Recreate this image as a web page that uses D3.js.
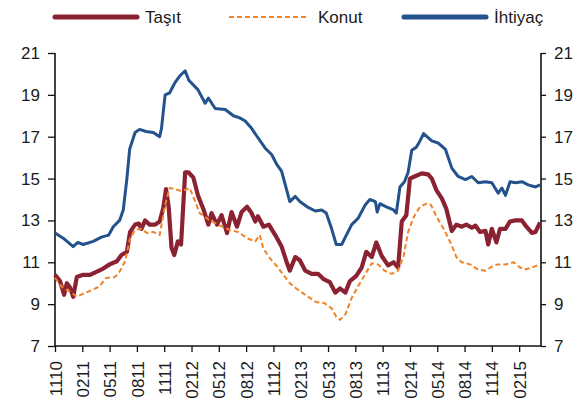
<!DOCTYPE html>
<html lang="tr">
<head>
  <meta charset="UTF-8">
  <title>Taşıt Konut İhtiyaç</title>
  <style>
    body { margin: 0; background: #fff; }
    svg { display: block; font-family: "Liberation Sans", Arial, sans-serif; }
  </style>
</head>
<body>
<svg width="576" height="406"></svg>

<script src="https://cdn.jsdelivr.net/npm/d3@7"></script>
<script>
  // month offsets count from 11/2010
  var tickMonths = [0, 3, 6, 9, 12, 15, 18, 21, 24, 27, 30, 33, 36, 39, 42, 45, 48, 51];
  var tickLabels = ['1110', '0211', '0511', '0811', '1111', '0212', '0512', '0812', '1112',
                    '0213', '0513', '0813', '1113', '0214', '0514', '0814', '1114', '0215'];
  var yTicks = [7, 9, 11, 13, 15, 17, 19, 21];

  var seriesNames = ['Taşıt', 'Konut', 'İhtiyaç'];

  var tasitMonths = [0, 0.55, 1, 1.3, 1.65, 2, 2.4, 3.1, 3.85, 4.6, 5.3, 6, 6.8, 7.3, 7.9, 8.25, 8.8, 9.2, 9.5, 9.9,
    10.4, 11, 11.5, 11.9, 12.2, 12.5, 12.8, 13.1, 13.5, 13.85, 14.3, 14.65, 15.2, 15.7, 16.3, 16.85, 17.2, 17.8, 18.3, 18.9,
    19.4, 20, 20.5, 21.1, 21.6, 22, 22.3, 22.9, 23.5, 24.2, 24.9, 25.5, 25.8, 26.4, 26.9, 27.5, 28.2, 28.9, 29.5, 30.2,
    30.8, 31.3, 31.9, 32.4, 33.1, 33.7, 34.2, 34.8, 35.3, 35.9, 36.6, 37.2, 37.7, 38.1, 38.6, 39, 39.5, 40.3, 41, 41.4,
    41.9, 42.5, 43, 43.6, 44.1, 44.7, 45.2, 45.8, 46.2, 46.7, 47.3, 47.6, 48, 48.5, 48.9, 49.5, 50, 50.6, 51.3, 51.8,
    52.4, 52.8, 53.3];
  var tasitValues = [10.4, 10.1, 9.45, 10.0, 9.8, 9.35, 10.3, 10.4, 10.4, 10.55, 10.7, 10.9, 11.05, 11.35, 11.5, 12.45, 12.8, 12.85, 12.6, 13.0,
    12.8, 12.8, 12.95, 13.6, 14.5, 13.6, 11.7, 11.35, 12.0, 11.85, 15.3, 15.3, 15.05, 14.2, 13.55, 12.8, 13.35, 12.8, 13.25, 12.4,
    13.4, 12.7, 13.4, 13.65, 13.35, 12.95, 13.2, 12.7, 12.8, 12.3, 11.75, 10.95, 10.6, 11.25, 11.1, 10.6, 10.45, 10.45, 10.2, 10.05,
    9.55, 9.75, 9.55, 10.1, 10.35, 10.75, 11.5, 11.25, 11.95, 11.3, 10.85, 11.0, 10.75, 12.95, 13.25, 15.0, 15.1, 15.25, 15.2, 15.0,
    14.45, 14.05, 13.55, 12.5, 12.8, 12.7, 12.8, 12.65, 12.75, 12.45, 12.5, 11.85, 12.6, 11.95, 12.6, 12.6, 12.95, 13.0, 13.0, 12.7,
    12.4, 12.45, 12.9];

  var konutMonths = [0, 0.9, 1.65, 2.4, 3.1, 4.2, 4.9, 5.6, 6.6, 7.1, 7.7, 8.25, 8.8, 9.5, 10.1, 10.8, 11.5, 12.1, 12.6, 13.2,
    13.9, 14.8, 15.4, 15.9, 16.85, 17.9, 19.2, 20.1, 21.1, 22, 22.5, 22.9, 23.6, 24.4, 25.1, 25.8, 26.5, 27.3, 28.7, 29.6,
    30.4, 30.9, 31.3, 31.9, 32.6, 33.3, 34.1, 34.8, 35.5, 36.2, 37, 37.7, 38.3, 38.8, 39.4, 40.1, 40.8, 41.3, 41.9, 42.7,
    43.5, 44.1, 44.7, 45.6, 46.5, 47.3, 48.2, 48.7, 49.5, 50.4, 51.1, 51.6, 52.4, 53.3];
  var konutValues = [10.25, 9.75, 9.6, 9.35, 9.5, 9.7, 9.85, 10.25, 10.3, 10.55, 11.05, 12.15, 12.55, 12.6, 12.4, 12.45, 12.3, 13.75, 14.55, 14.5,
    14.4, 14.55, 13.9, 13.35, 13.05, 12.8, 12.55, 12.45, 12.15, 12.0, 12.3, 11.65, 11.2, 10.8, 10.4, 10.0, 9.75, 9.5, 9.1, 9.05,
    8.8, 8.4, 8.25, 8.5, 9.3, 9.85, 10.45, 10.95, 10.9, 10.6, 10.45, 10.6, 11.3, 12.45, 13.15, 13.65, 13.8, 13.75, 13.2, 12.6,
    11.9, 11.25, 11.0, 10.9, 10.65, 10.6, 10.85, 10.9, 10.9, 11.0, 10.75, 10.65, 10.75, 10.9];

  var ihtiyacMonths = [0, 0.9, 2, 2.5, 3.1, 4.2, 5.1, 5.9, 6.4, 7.1, 7.5, 7.9, 8.2, 8.8, 9.3, 10, 10.8, 11.5, 11.7, 12.1,
    12.6, 13.2, 13.7, 14.3, 14.7, 15.7, 16.5, 16.85, 17.6, 18.7, 19.6, 20.3, 20.9, 21.6, 22.3, 23.1, 23.8, 24.4, 24.9, 25.8,
    26.4, 26.9, 27.7, 28.6, 29.3, 29.8, 30.4, 30.9, 31.5, 31.9, 32.6, 33.3, 34.1, 34.6, 35.2, 35.4, 35.7, 36.4, 37.2, 37.5,
    37.9, 38.4, 38.8, 39.2, 39.7, 40.1, 40.5, 41.4, 42.1, 42.9, 43.6, 44.3, 45.1, 45.8, 46.5, 47.3, 48, 48.7, 49.1, 49.5,
    50, 50.6, 51.3, 52, 52.8, 53.3];
  var ihtiyacValues = [12.4, 12.15, 11.75, 11.95, 11.85, 12.0, 12.2, 12.3, 12.7, 13.0, 13.5, 15.0, 16.4, 17.2, 17.35, 17.25, 17.2, 17.0, 17.4, 19.0,
    19.1, 19.6, 19.9, 20.15, 19.7, 19.25, 18.6, 18.85, 18.35, 18.3, 18.0, 17.9, 17.75, 17.4, 16.95, 16.45, 16.15, 15.65, 15.35, 13.9,
    14.15, 13.9, 13.65, 13.45, 13.5, 13.35, 12.6, 11.85, 11.85, 12.2, 12.8, 13.1, 13.75, 14.0, 13.9, 13.4, 13.8, 13.65, 13.5, 13.35,
    14.6, 14.85, 15.3, 16.35, 16.5, 16.8, 17.15, 16.8, 16.7, 16.4, 15.5, 15.1, 14.95, 15.1, 14.8, 14.85, 14.8, 14.3, 14.55, 14.2,
    14.85, 14.8, 14.85, 14.7, 14.6, 14.7];

  var colors = ['#8a2231', '#f08228', '#24528c'];

  var svg = d3.select('svg');
  var plot = {left: 55, right: 541, top: 53, bottom: 346};

  var x = d3.scaleLinear().domain([0, 53.4]).range([plot.left, plot.right]);
  var y = d3.scaleLinear().domain([7, 21]).range([plot.bottom, plot.top]);

  // axes
  var yLeft = d3.axisLeft(y).tickValues(yTicks).tickSize(7).tickPadding(8);
  var yRight = d3.axisRight(y).tickValues(yTicks).tickSize(5).tickPadding(8);
  var xAxis = d3.axisBottom(x).tickValues(tickMonths).tickSize(6)
    .tickFormat(function (d, i) { return tickLabels[i]; });

  var gl = svg.append('g').attr('transform', `translate(${plot.left},0)`).call(yLeft);
  var gr = svg.append('g').attr('transform', `translate(${plot.right},0)`).call(yRight);
  var gx = svg.append('g').attr('transform', `translate(0,${plot.bottom})`).call(xAxis);

  gx.select('.domain').attr('d', `M${plot.left},0H${plot.right}`);
  gx.selectAll('.tick text')
    .attr('transform', 'rotate(-90)')
    .attr('text-anchor', 'end')
    .attr('x', -15).attr('y', 0).attr('dy', '0.36em');

  [gl, gr, gx].forEach(function (g) {
    g.selectAll('.domain').attr('stroke', '#111').attr('stroke-width', 1.6);
    g.selectAll('.tick line').attr('stroke', '#111').attr('stroke-width', 1.3);
    g.selectAll('.tick text').attr('fill', '#1b1b1b').style('font-size', '17px');
  });
  gl.select('.domain').attr('d', `M0,${plot.top}V${plot.bottom}`);
  gr.select('.domain').attr('d', `M0,${plot.top}V${plot.bottom}`);

  // lines
  var line = d3.line()
    .x(function (d) { return x(d[0]); })
    .y(function (d) { return y(d[1]); });

  var series = [
    d3.zip(tasitMonths, tasitValues),
    d3.zip(konutMonths, konutValues),
    d3.zip(ihtiyacMonths, ihtiyacValues)
  ];
  var widths = [4.2, 2, 3];
  var dashes = [null, '5,3', null];

  series.forEach(function (s, i) {
    svg.append('path').datum(s)
      .attr('d', line)
      .attr('fill', 'none')
      .attr('stroke', colors[i])
      .attr('stroke-width', widths[i])
      .attr('stroke-dasharray', dashes[i])
      .attr('stroke-linejoin', 'round');
  });

  // legend
  var legendX = [55, 229, 404];
  var lg = svg.append('g').selectAll('g').data(seriesNames).enter().append('g')
    .attr('transform', function (d, i) { return `translate(${legendX[i]},17)`; });
  lg.append('line')
    .attr('x1', 0).attr('x2', function (d, i) { return i == 1 ? 79 : 82; })
    .attr('y1', 0).attr('y2', 0)
    .attr('stroke', function (d, i) { return colors[i]; })
    .attr('stroke-width', function (d, i) { return i == 1 ? 2 : 5; })
    .attr('stroke-dasharray', function (d, i) { return dashes[i]; })
    .attr('stroke-linecap', function (d, i) { return i == 1 ? 'butt' : 'round'; });
  lg.append('text')
    .attr('x', function (d, i) { return i == 1 ? 89 : 90; })
    .attr('dy', '0.36em')
    .attr('fill', '#1b1b1b')
    .style('font-size', '17px')
    .text(function (d) { return d; });
</script>
</body>
</html>
